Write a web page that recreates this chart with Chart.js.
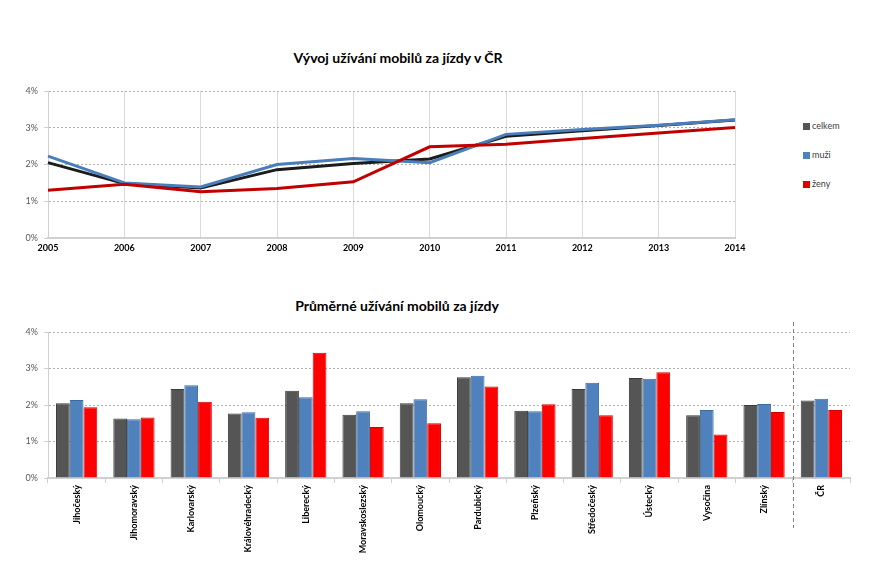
<!DOCTYPE html>
<html>
<head>
<meta charset="utf-8">
<script src="https://cdn.jsdelivr.net/npm/chart.js@4.4.1/dist/chart.umd.min.js"></script>
<style>
  body { margin: 0; background: #fff; font-family: Lato, "Open Sans", sans-serif; }
  #wrap { position: relative; width: 886px; height: 574px; overflow: hidden; }
  canvas { position: absolute; left: 0; }
  .title { position: absolute; font-weight: bold; font-size: 14px; color: #000; text-align: center; width: 400px; }
  .leg { position: absolute; left: 803px; font-size: 9px; color: #404040; line-height: 10px; }
  .leg span { display: inline-block; width: 7px; height: 7px; margin-right: 2px; vertical-align: -1px; }
</style>
</head>
<body>
<div id="wrap">
  <div class="title" style="left:198px;top:49px;">Vývoj užívání mobilů za jízdy v ČR</div>
  <canvas id="trend" width="760" height="262" style="top:0;"></canvas>
  <div class="leg" style="top:121px;"><span style="background:#555555"></span>celkem</div>
  <div class="leg" style="top:150px;"><span style="background:#4f81bd"></span>muži</div>
  <div class="leg" style="top:179px;"><span style="background:#e00000"></span>ženy</div>

  <div class="title" style="left:197px;top:297px;">Průměrné užívání mobilů za jízdy</div>
  <canvas id="regions" width="886" height="294" style="top:280px;"></canvas>
</div>
<script>
// top chart
const years = ['2005', '2006', '2007', '2008', '2009', '2010', '2011', '2012', '2013', '2014'];
const trendCelkem = [2.05, 1.48, 1.36, 1.86, 2.03, 2.15, 2.77, 2.92, 3.06, 3.21];
const trendMuzi   = [2.23, 1.50, 1.39, 2.00, 2.16, 2.05, 2.82, 2.95, 3.07, 3.22];
const trendZeny   = [1.30, 1.46, 1.26, 1.35, 1.53, 2.48, 2.55, 2.71, 2.86, 3.01];

// bottom chart
const regions = ['Jihočeský', 'Jihomoravský', 'Karlovarský', 'Královéhradecký', 'Liberecký',
  'Moravskoslezský', 'Olomoucký', 'Pardubický', 'Plzeňský', 'Středočeský', 'Ústecký',
  'Vysočina', 'Zlínský', 'ČR'];
const regCelkem = [2.05, 1.63, 2.44, 1.77, 2.39, 1.73, 2.05, 2.76, 1.84, 2.44, 2.74, 1.72, 2.00, 2.12];
const regMuzi   = [2.14, 1.61, 2.54, 1.80, 2.21, 1.83, 2.16, 2.80, 1.83, 2.61, 2.72, 1.86, 2.03, 2.17];
const regZeny   = [1.94, 1.66, 2.09, 1.65, 3.43, 1.40, 1.50, 2.51, 2.02, 1.72, 2.90, 1.19, 1.81, 1.86];

const pctTicks = { color: '#595959', font: { family: 'Lato', size: 9 }, stepSize: 1, padding: 6, callback: v => v + '%' };
const dotGrid = { color: '#b0b0b0', lineWidth: 1, drawTicks: true, tickLength: 4, tickColor: '#d0d0d0' };
// in v4 border.dash is what dashes the grid lines
const dotBorder = { color: '#d0d0d0', dash: [2, 2] };

function line(label, data, color, order) {
  return { label, data, borderColor: color, borderWidth: 3, pointRadius: 0, tension: 0, fill: false, order };
}

new Chart(document.getElementById('trend'), {
  type: 'line',
  data: {
    labels: years,
    datasets: [
      line('celkem', trendCelkem, '#1c1c1c', 3),
      line('muži', trendMuzi, '#4a7ebb', 2),
      line('ženy', trendZeny, '#c00000', 1)
    ]
  },
  options: {
    responsive: false,
    animation: false,
    layout: { padding: { top: 91, right: 25, left: 0, bottom: 0 } },
    plugins: { legend: { display: false }, tooltip: { enabled: false } },
    scales: {
      x: {
        offset: false,
        grid: { color: '#dadada', drawTicks: false },
        border: { color: '#d0d0d0', width: 2 },
        ticks: { color: '#000', font: { family: 'Lato', size: 9, weight: 'bold' }, padding: 5, maxRotation: 0 },
        afterFit: s => { s.height = 24; }
      },
      y: {
        min: 0, max: 4,
        grid: dotGrid,
        border: dotBorder,
        ticks: pctTicks,
        afterFit: s => { s.width = 48; }
      }
    }
  }
});

function bar(label, data, color, edge) {
  return { label, data, backgroundColor: color, borderColor: edge, borderWidth: 1,
    categoryPercentage: 0.72, barPercentage: 1.0 };
}

const separator = {
  id: 'separator',
  afterDatasetsDraw(c) {
    const x = c.scales.x;
    const px = (x.getPixelForValue(12) + x.getPixelForValue(13)) / 2;
    const ctx = c.ctx;
    ctx.save();
    ctx.strokeStyle = '#7f7f7f';
    ctx.lineWidth = 1;
    ctx.setLineDash([4, 3]);
    ctx.beginPath();
    ctx.moveTo(Math.round(px) + 0.5, c.chartArea.top - 10);
    ctx.lineTo(Math.round(px) + 0.5, c.chartArea.bottom + 50);
    ctx.stroke();
    ctx.restore();
  }
};

new Chart(document.getElementById('regions'), {
  type: 'bar',
  data: {
    labels: regions,
    datasets: [
      bar('celkem', regCelkem, '#555555', '#3b3b3b'),
      bar('muži', regMuzi, '#4f81bd', '#3d6a9e'),
      bar('ženy', regZeny, '#ff0000', '#d40000')
    ]
  },
  options: {
    responsive: false,
    animation: false,
    layout: { padding: { top: 52, right: 36, left: 0, bottom: 0 } },
    plugins: { legend: { display: false }, tooltip: { enabled: false } },
    scales: {
      x: {
        grid: { offset: true, drawOnChartArea: false, drawTicks: true, tickLength: 5, color: '#d0d0d0' },
        border: { color: '#d0d0d0', width: 2 },
        ticks: { color: '#000', font: { family: 'Lato', size: 9, weight: 'bold' }, minRotation: 90, maxRotation: 90, padding: 2 },
        afterFit: s => { s.height = 96; }
      },
      y: {
        min: 0, max: 4,
        grid: dotGrid,
        border: dotBorder,
        ticks: pctTicks,
        afterFit: s => { s.width = 48; }
      }
    }
  },
  plugins: [separator]
});
</script>
</body>
</html>
